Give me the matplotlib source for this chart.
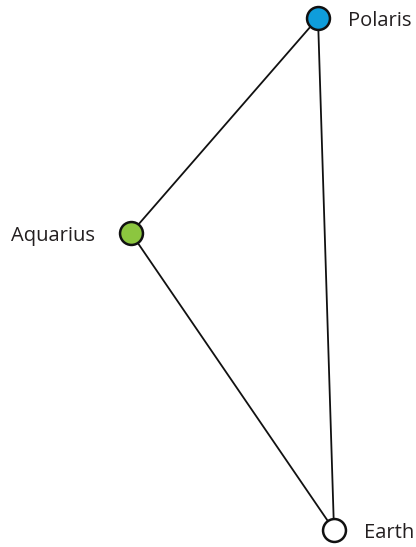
import matplotlib.pyplot as plt

names = ['Polaris', 'Aquarius', 'Earth']
xs = [318, 131, 334]
ys = [18, 233, 530]
colors = ['#0f9ddb', '#8cc63f', '#ffffff']
label_side = ['right', 'left', 'right']

# triangle edges: Polaris-Aquarius, Aquarius-Earth, Earth-Polaris
edges = [(0, 1), (1, 2), (2, 0)]


def main():
    fig = plt.figure(figsize=(4.16, 5.47), dpi=100)
    ax = fig.add_axes([0, 0, 1, 1])
    ax.set_xlim(0, 416)
    ax.set_ylim(547, 0)
    ax.axis('off')

    for a, b in edges:
        ax.plot([xs[a], xs[b]], [ys[a], ys[b]], color='#111111', lw=1.3, zorder=1)

    for i, name in enumerate(names):
        ax.plot(xs[i], ys[i], 'o', ms=16.5, mfc=colors[i], mec='#111111', mew=1.8, zorder=3)
        if label_side[i] == 'right':
            ax.text(xs[i] + 30, ys[i] + 1, name, ha='left', va='center_baseline',
                    fontsize=14.5, family='Open Sans', color='#231f20')
        else:
            ax.text(xs[i] - 36, ys[i] + 1, name, ha='right', va='center_baseline',
                    fontsize=14.5, family='Open Sans', color='#231f20')

    fig.savefig('out.png', dpi=100)


if __name__ == '__main__':
    main()
